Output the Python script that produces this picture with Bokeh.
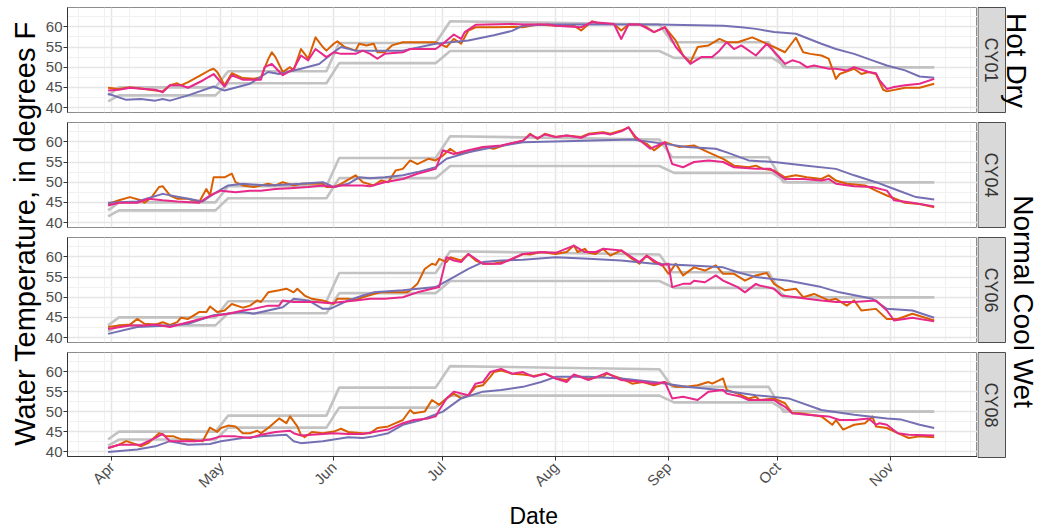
import math
from datetime import datetime, timedelta
from bokeh.plotting import figure
from bokeh.layouts import row, column
from bokeh.models import Range1d, FixedTicker, DatetimeTickFormatter
from bokeh.core.properties import value
from bokeh.embed import file_html
from bokeh.resources import INLINE

# ---------------- data ----------------
BASE = datetime(2015, 4, 1)          # day 0 = Apr 1
site_names = ["CY01", "CY04", "CY06", "CY08"]
scenario_top = "Hot Dry"
scenario_bottom = "Normal  Cool Wet"
y_title = "Water Temperature, in degrees F"
x_title = "Date"
month_starts = [datetime(2015, m, 1) for m in range(4, 12)]
week_starts = [datetime(2015, 3, 23) + timedelta(days=7 * k) for k in range(36)]
y_ticks = [40, 45, 50, 55, 60]
y_minor = [42.5, 47.5, 52.5, 57.5, 62.5]

# criteria (gray) lines: (day, degF)
upper_crit = [(-1, 43.0), (2, 45.0), (28.5, 45.0), (32, 49.0), (59, 49.0), (62.5, 56.0), (89, 56.0),
              (93, 61.4), (150.5, 60.6), (154, 56.2), (180.5, 56.2), (184.5, 50.0), (226, 50.0)]
lower_crit = [(-1, 41.5), (2, 43.0), (28.5, 43.0), (32, 46.0), (59, 46.0), (62.5, 51.0), (89, 51.0),
              (93, 54.0), (150.5, 54.0), (154.5, 52.3), (181.5, 52.3), (185.5, 50.0), (226, 50.0)]

cy01_orange = [(-1,44.9),(2,44.6),(5,45.0),(9,44.6),(12,44.2),(14,44.0),(16,45.5),(18,46.0),(19,45.5),(21,46.3),
    (25,48.3),(27,49.3),(28,49.6),(29,48.8),(31,45.5),(33,48.5),(36,47.3),(39,47.1),(41,47.5),(43,52.0),(44,53.7),
    (45,52.5),(47,48.8),(49,50.0),(50,49.2),(52,54.5),(54,52.1),(56,57.4),(58,55.0),(59,54.1),(61,55.8),(62,56.4),
    (64,55.0),(67,54.1),(68,55.8),(70,55.4),(72,55.8),(73,53.7),(75,53.7),(77,55.4),(80,56.2),(85,56.2),(89,56.2),
    (91,55.4),(92,55.0),(94,57.0),(96,55.8),(98,59.1),(100,59.9),(105,59.9),(110,60.0),(113,59.9),(117,60.6),
    (122,60.3),(127,60.3),(129,59.1),(132,61.4),(134,60.7),(138,60.7),(140,59.1),(142,60.6),(145,60.6),(147,59.9),
    (149,58.7),(152,59.9),(155,56.6),(157,52.9),(159,51.2),(161,55.0),(164,55.4),(167,57.0),(169,56.2),(172,56.2),
    (176,57.4),(179,56.2),(182,55.0),(185,53.7),(188,57.3),(190,53.7),(192,53.3),(195,52.9),(197,52.1),(199,47.1),
    (200,48.3),(204,49.6),(206,48.3),(208,48.8),(210,48.3),(212,44.4),(213,44.0),(218,44.9),(222,44.9),(226,45.9)]
cy01_pink = [(-1,44.2),(2,44.4),(5,44.9),(9,44.6),(12,44.4),(14,43.8),(16,45.5),(19,45.5),(21,44.9),(25,46.7),
    (28,48.3),(31,45.2),(33,48.0),(36,46.9),(41,46.9),(42,50.0),(44,50.8),(47,48.0),(50,49.6),(52,52.9),(54,51.7),
    (56,54.5),(59,52.5),(61,53.7),(63,53.3),(67,53.3),(69,54.1),(71,53.3),(73,52.1),(75,53.3),(80,53.7),(82,54.5),
    (89,54.5),(91,55.8),(94,58.1),(96,57.0),(97,58.7),(100,60.5),(110,60.7),(113,60.6),(120,60.6),(122,60.3),
    (129,59.9),(132,61.2),(138,60.7),(140,57.0),(142,60.6),(145,60.6),(149,58.7),(152,59.9),(155,55.0),(159,50.8),
    (162,52.5),(165,52.5),(167,54.1),(169,56.2),(171,54.5),(173,55.4),(177,52.9),(180,55.8),(183,52.9),(185,50.8),
    (187,51.7),(189,51.2),(191,50.0),(193,50.4),(197,49.6),(199,49.6),(202,49.2),(204,50.0),(208,48.8),(210,48.5),
    (211,46.7),(213,44.6),(215,45.1),(218,45.5),(222,45.9),(226,47.1)]
cy01_purple = [(-1,43.4),(4,41.9),(8,42.1),(12,41.7),(14,42.1),(16,41.7),(21,43.0),(28,45.2),(31,44.2),(38,45.9),
    (43,48.8),(46,48.3),(52,49.6),(57,50.8),(61,53.7),(63,55.0),(67,54.1),(80,54.1),(89,55.8),(98,56.6),(105,57.9),
    (110,59.0),(113,60.3),(120,60.6),(150,60.6),(168,60.3),(173,59.9),(177,59.5),(182,58.7),(188,58.3),(195,55.8),
    (199,54.5),(204,53.3),(209,51.7),(213,50.4),(218,49.2),(222,47.7),(226,47.4)]

cy04_orange = [(-1,44.6),(2,45.5),(5,46.3),(8,45.5),(9,44.9),(11,46.3),(13,48.8),(14,49.0),(16,46.7),(18,45.9),
    (21,45.9),(24,45.0),(26,48.3),(27,46.7),(28,51.2),(31,51.2),(33,52.1),(34,50.0),(36,49.2),(39,48.8),(41,49.2),
    (43,49.6),(45,49.2),(47,50.0),(50,49.2),(52,49.6),(58,49.6),(59,48.8),(61,48.8),(63,49.6),(67,51.7),(69,50.0),
    (72,49.2),(74,50.4),(76,50.0),(78,52.9),(80,53.3),(82,55.4),(84,54.5),(87,55.8),(89,55.4),(91,56.6),(93,58.3),
    (95,57.0),(98,57.4),(102,58.7),(105,58.3),(109,59.5),(113,60.3),(115,62.0),(117,60.7),(119,62.0),(122,61.2),
    (125,61.6),(129,61.2),(131,62.0),(135,62.4),(137,62.0),(140,62.8),(142,63.6),(144,60.7),(147,59.5),(149,57.9),
    (152,59.9),(156,58.7),(160,59.1),(164,57.4),(168,55.8),(171,54.1),(175,53.7),(177,54.1),(179,53.3),(182,52.9),
    (185,51.2),(188,51.7),(191,51.2),(195,50.8),(197,51.7),(199,50.4),(202,49.6),(207,49.2),(210,47.9),(213,46.7),
    (218,44.9),(222,44.6),(226,43.8)]
cy04_pink = [(-1,44.2),(2,44.9),(7,44.9),(10,45.9),(14,45.5),(18,45.2),(24,44.9),(27,46.7),(30,47.9),(34,47.5),
    (38,47.9),(41,47.9),(45,48.3),(49,48.5),(54,48.8),(58,49.2),(61,48.8),(63,49.2),(69,49.2),(71,49.0),(75,50.0),
    (80,50.8),(84,52.1),(89,53.3),(91,57.9),(94,57.0),(98,57.9),(102,58.7),(107,59.1),(113,60.3),(115,61.8),
    (117,60.9),(119,61.8),(122,61.2),(125,61.6),(129,61.0),(131,61.8),(135,62.2),(137,61.8),(140,62.6),(142,63.6),
    (144,61.2),(148,58.3),(152,59.9),(154,54.5),(157,53.7),(160,55.0),(164,55.4),(168,55.0),(171,53.7),(177,53.3),
    (181,53.3),(185,50.8),(190,50.8),(195,50.4),(197,50.8),(199,49.6),(204,49.0),(209,48.8),(213,47.9),(215,45.5),
    (220,44.9),(226,44.0)]
cy04_purple = [(-1,44.9),(7,45.2),(14,47.1),(21,45.9),(25,45.2),(28,47.1),(32,49.2),(36,49.6),(43,49.2),(52,49.6),
    (58,50.0),(61,48.8),(65,49.6),(68,51.2),(71,51.0),(75,51.2),(80,51.7),(84,52.5),(89,53.7),(92,55.8),(98,57.4),
    (105,58.7),(113,59.9),(130,60.3),(143,60.6),(152,59.5),(158,58.7),(166,58.3),(169,57.4),(175,55.4),(182,55.0),
    (191,54.1),(199,53.3),(204,51.7),(210,50.0),(215,48.3),(221,46.3),(226,45.7)]

cy06_orange = [(-1,42.6),(2,43.0),(5,43.2),(7,44.6),(9,43.4),(12,43.2),(14,43.8),(16,43.1),(18,43.8),(19,44.9),
    (21,44.6),(24,46.3),(26,46.3),(27,47.7),(29,46.3),(31,46.7),(33,48.3),(36,47.4),(38,47.9),(40,49.2),(41,48.8),
    (43,51.2),(46,51.7),(48,52.1),(50,51.2),(51,52.1),(53,50.4),(55,49.6),(58,49.2),(61,48.3),(62,49.6),(65,49.6),
    (67,49.3),(69,50.0),(72,50.8),(74,51.2),(78,51.2),(81,51.2),(82,51.7),(84,53.3),(86,57.0),(88,58.3),(89,58.0),
    (90,59.5),(92,58.7),(93,59.9),(96,59.1),(98,60.7),(100,59.1),(102,58.3),(105,58.3),(109,59.1),(113,60.7),
    (115,60.6),(118,61.2),(122,60.7),(125,61.2),(127,62.8),(128,61.2),(130,62.0),(131,61.0),(133,60.7),(135,62.0),
    (137,60.3),(140,61.6),(143,59.5),(145,58.3),(147,60.3),(149,58.7),(151,58.3),(153,55.8),(155,58.3),(157,55.4),
    (160,57.4),(163,56.6),(166,57.9),(168,55.8),(171,55.8),(174,54.1),(177,55.4),(180,56.0),(182,53.3),(185,51.7),
    (188,52.1),(190,50.0),(193,50.8),(197,49.2),(199,49.6),(202,47.9),(204,49.2),(206,46.7),(210,47.1),(213,44.6),
    (216,44.6),(220,45.9),(226,44.2)]
cy06_pink = [(-1,42.1),(5,43.0),(9,43.0),(12,43.2),(16,42.6),(21,43.8),(27,45.2),(32,45.9),(36,46.7),(39,47.1),
    (43,47.9),(46,47.9),(47,49.2),(50,48.8),(53,48.8),(56,48.8),(60,48.5),(63,48.8),(67,49.2),(71,49.6),(75,49.6),
    (80,50.0),(84,51.2),(88,52.1),(90,52.5),(92,59.9),(94,59.1),(96,58.7),(98,60.7),(102,58.3),(107,58.3),(113,60.7),
    (118,61.2),(122,61.0),(127,62.8),(130,61.2),(133,61.2),(135,62.0),(140,61.6),(145,58.7),(147,60.3),(151,57.9),
    (153,58.3),(154,52.5),(157,53.3),(159,53.3),(160,54.1),(163,53.7),(166,55.4),(168,54.1),(169,53.7),(172,52.5),
    (174,51.2),(177,53.3),(178,52.9),(182,52.1),(184,50.4),(188,50.0),(191,49.6),(195,49.2),(199,48.8),(204,48.8),
    (210,49.2),(213,46.7),(215,44.2),(220,44.9),(226,44.0)]
cy06_purple = [(-1,40.9),(7,42.6),(16,43.0),(21,43.4),(28,45.5),(36,46.3),(39,45.9),(47,47.5),(50,49.6),(54,49.2),
    (58,47.1),(60,47.1),(65,49.2),(69,50.4),(72,51.2),(80,51.7),(89,52.5),(93,54.5),(98,57.0),(102,58.7),(107,59.1),
    (113,59.3),(122,59.9),(131,59.5),(140,59.1),(149,58.3),(158,57.9),(168,57.4),(172,56.2),(177,55.0),(186,54.1),
    (195,52.5),(200,51.2),(209,49.6),(213,47.1),(220,46.7),(226,44.9)]

cy08_orange = [(-1,40.9),(2,41.7),(4,42.6),(7,41.7),(8,41.3),(10,42.1),(13,44.6),(15,43.8),(17,43.8),(19,43.1),
    (21,43.0),(25,42.6),(27,46.0),(29,44.9),(30,45.9),(32,46.5),(34,46.3),(36,44.6),(38,44.6),(40,45.2),(41,44.6),
    (43,45.9),(46,48.3),(48,47.1),(49,48.8),(51,46.3),(52,44.2),(53,43.6),(55,44.9),(58,44.6),(61,45.0),(63,45.7),
    (65,44.9),(69,44.6),(71,44.6),(73,45.9),(76,46.3),(78,47.1),(80,47.9),(82,50.4),(83,49.6),(86,50.0),(88,52.9),
    (90,51.7),(92,53.3),(94,54.5),(96,53.3),(98,54.1),(100,56.2),(102,56.6),(104,58.7),(105,59.9),(107,60.3),
    (110,59.5),(113,59.3),(116,58.9),(119,59.5),(122,58.3),(125,57.9),(127,59.1),(131,58.3),(135,58.7),(136,59.5),
    (140,58.3),(143,57.0),(146,57.4),(149,56.6),(152,57.4),(155,56.2),(158,56.2),(161,56.6),(164,57.4),(165,57.0),
    (168,58.3),(169,55.4),(172,54.5),(175,53.3),(177,53.7),(178,52.9),(182,53.3),(185,52.1),(187,49.6),(189,49.6),
    (192,49.2),(195,48.8),(198,46.7),(199,47.9),(201,45.5),(204,46.7),(207,47.1),(209,48.8),(210,46.3),(213,45.9),
    (216,44.6),(219,43.4),(222,43.8),(226,43.6)]
cy08_pink = [(-1,40.9),(2,41.7),(5,41.7),(8,41.7),(12,43.4),(14,44.4),(16,42.6),(19,42.6),(23,42.6),(27,43.0),
    (30,43.8),(34,43.8),(38,43.4),(41,44.2),(45,44.9),(49,45.2),(50,44.6),(52,44.0),(58,44.4),(61,44.6),(65,44.4),
    (69,44.4),(72,44.9),(76,45.5),(80,47.1),(83,47.9),(87,48.3),(89,48.8),(90,50.4),(92,53.3),(94,55.0),(98,54.1),
    (100,57.0),(102,57.4),(104,59.9),(107,60.7),(110,59.5),(113,59.9),(116,58.7),(119,59.5),(122,58.3),(125,57.4),
    (127,59.3),(131,57.9),(136,59.7),(140,57.9),(146,57.4),(149,57.0),(152,57.4),(154,53.3),(157,53.7),(161,52.9),
    (164,55.0),(168,55.4),(169,54.5),(173,53.7),(175,52.9),(179,52.9),(182,52.9),(185,51.2),(187,49.6),(191,49.2),
    (197,48.8),(200,47.9),(204,47.9),(208,48.3),(210,46.7),(211,47.1),(213,46.7),(216,44.6),(219,44.2),(226,44.0)]
cy08_purple = [(-1,39.9),(7,40.5),(12,41.3),(16,42.6),(21,41.7),(27,41.9),(30,42.6),(36,43.4),(41,43.8),(48,44.2),
    (50,42.6),(52,42.1),(58,42.6),(61,43.0),(65,43.6),(69,43.4),(72,43.8),(76,44.6),(80,46.7),(85,47.9),(91,50.0),
    (96,53.3),(102,55.0),(107,55.4),(113,56.2),(118,57.4),(122,58.7),(131,58.7),(140,58.3),(149,57.4),(158,56.2),
    (167,55.4),(177,54.1),(186,53.3),(195,50.4),(204,49.2),(213,48.3),(217,48.0),(222,46.7),(226,45.9)]

panel_series = [
    (cy01_orange, cy01_pink, cy01_purple),
    (cy04_orange, cy04_pink, cy04_purple),
    (cy06_orange, cy06_pink, cy06_purple),
    (cy08_orange, cy08_pink, cy08_purple),
]

# ---------------- styling ----------------
ORANGE, PINK, PURPLE, GRAY = "#D95F02", "#E7298A", "#7570B3", "#C2C2C2"
FONT = "Liberation Sans"
TICK_COLOR = "#4D4D4D"

def dt(d):
    return BASE + timedelta(days=d)

def ms(t):
    return (t - datetime(1970, 1, 1)).total_seconds() * 1000.0

x_range = Range1d(start=ms(dt(-12.15)), end=ms(dt(237.9)))
month_ms = [ms(t) for t in month_starts]
week_ms = [ms(t) for t in week_starts]

LEFT_W = 42
MID_W = 977 - LEFT_W
DATE_H = 28
heights = [117, 115, 115, 180 - DATE_H]
tops = [7, 5, 5, 5]
bottoms = [5, 5, 5, 70 - DATE_H]

panels = []
for i, (orange, pink, purple) in enumerate(panel_series):
    last = i == 3
    p = figure(width=MID_W, height=heights[i], x_axis_type="datetime", x_range=x_range,
               y_range=Range1d(38.76, 64.8), output_backend="svg", toolbar_location=None,
               min_border_left=65 - LEFT_W, min_border_right=0, min_border_top=tops[i],
               min_border_bottom=bottoms[i])
    p.background_fill_color = "white"
    p.border_fill_color = "white"
    p.outline_line_color = "#8C8C8C"
    p.outline_line_width = 1

    p.xgrid.ticker = FixedTicker(ticks=month_ms, minor_ticks=week_ms)
    p.xgrid.grid_line_color = "#E6E6E6"
    p.xgrid.grid_line_width = 1.6
    p.xgrid.minor_grid_line_color = "#F1F1F1"
    p.xgrid.minor_grid_line_width = 1
    p.ygrid.ticker = FixedTicker(ticks=y_ticks, minor_ticks=y_minor)
    p.ygrid.grid_line_color = "#E6E6E6"
    p.ygrid.grid_line_width = 1.6
    p.ygrid.minor_grid_line_color = "#F1F1F1"
    p.ygrid.minor_grid_line_width = 1

    ya = p.yaxis[0]
    ya.ticker = FixedTicker(ticks=y_ticks)
    ya.minor_tick_line_color = None
    ya.major_tick_in = 0
    ya.major_tick_out = 4
    ya.major_tick_line_color = "#333333"
    ya.axis_line_color = "#333333"
    ya.major_label_standoff = 1
    ya.major_label_text_font = FONT
    ya.major_label_text_font_size = "15px"
    ya.major_label_text_color = TICK_COLOR

    xa = p.xaxis[0]
    xa.ticker = FixedTicker(ticks=month_ms)
    xa.formatter = DatetimeTickFormatter(days="%b", months="%b", years="%b", hours="%b",
                                         hourmin="%b", minutes="%b", minsec="%b", seconds="%b",
                                         milliseconds="%b", microseconds="%b")
    if last:
        xa.minor_tick_line_color = None
        xa.major_tick_in = 0
        xa.major_tick_out = 4
        xa.major_tick_line_color = "#333333"
        xa.axis_line_color = "#333333"
        xa.major_label_orientation = math.pi / 4
        xa.major_label_standoff = 4
        xa.major_label_text_font = FONT
        xa.major_label_text_font_size = "15px"
        xa.major_label_text_color = TICK_COLOR
    else:
        xa.visible = False

    for crit in (upper_crit, lower_crit):
        p.line([dt(d) for d, v in crit], [v for d, v in crit], line_color=GRAY, line_width=2.6)
    for ser, col in ((orange, ORANGE), (purple, PURPLE), (pink, PINK)):
        p.line([dt(d) for d, v in ser], [v for d, v in ser], line_color=col, line_width=2.0,
               line_join="round")
    panels.append(p)

# x-axis title row
date_fig = figure(width=MID_W, height=DATE_H, x_range=Range1d(0, MID_W), y_range=Range1d(DATE_H, 0),
                  output_backend="svg", toolbar_location=None, x_axis_location=None,
                  y_axis_location=None, min_border=0)
date_fig.outline_line_color = None
date_fig.grid.visible = False
date_fig.text(x=[(65 + 977) / 2 - LEFT_W], y=[16], text=[x_title], text_align="center",
              text_baseline="middle", text_font=value(FONT), text_font_size="23px",
              text_color="black")

# left title strip
left = figure(width=LEFT_W, height=527, x_range=Range1d(0, LEFT_W), y_range=Range1d(527, 0),
              output_backend="svg", toolbar_location=None, x_axis_location=None,
              y_axis_location=None, min_border=0)
left.outline_line_color = None
left.grid.visible = False
left.text(x=[24.5], y=[233], text=[y_title], angle=math.pi / 2, text_align="center",
          text_baseline="middle", text_font=value(FONT), text_font_size="29px",
          text_color="black")

# facet strips and scenario labels
right = figure(width=63, height=527, x_range=Range1d(0, 63), y_range=Range1d(527, 0),
               output_backend="svg", toolbar_location=None, x_axis_location=None,
               y_axis_location=None, min_border=0)
right.outline_line_color = None
right.grid.visible = False
strip_top = [7, 122, 237, 352]
strip_bot = [112, 227, 342, 457]
right.quad(left=[0.5] * 4, right=[28] * 4, top=strip_top, bottom=strip_bot,
           fill_color="#D9D9D9", line_color="#4D4D4D", line_width=1)
right.text(x=[13.5] * 4, y=[(a + b) / 2 for a, b in zip(strip_top, strip_bot)], text=site_names,
           angle=-math.pi / 2, text_align="center", text_baseline="middle",
           text_font=value(FONT), text_font_size="18px", text_color="#333333")
right.text(x=[39], y=[60], text=[scenario_top], angle=-math.pi / 2, text_align="center",
           text_baseline="middle", text_font=value(FONT), text_font_size="28px",
           text_color="black")
right.text(x=[45.5], y=[305], text=[scenario_bottom], angle=-math.pi / 2, text_align="center",
           text_baseline="middle", text_font=value(FONT), text_font_size="28px",
           text_color="black")

layout = row(left, column(*panels, date_fig), right)
open("out.html", "w").write(file_html(layout, INLINE))
